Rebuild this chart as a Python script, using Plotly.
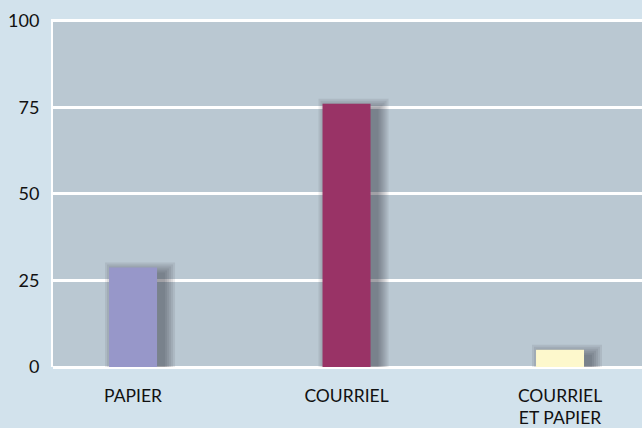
import plotly.graph_objects as go

categories = ["PAPIER", "COURRIEL", "COURRIEL<br>ET PAPIER"]
values = [28.7, 76, 5]
colors = ["#9797c9", "#993366", "#fdf8cc"]
y_ticks = [0, 25, 50, 75, 100]

PX_X = 213.5   # pixels per category
PX_Y = 3.46    # pixels per y unit
BAR_PX = 48

fig = go.Figure()

# soft drop shadows: stacked translucent layers, offset right/down
dx, dy = 7, 6
for e in [11, 9, 7, 5, 3, 1]:
    fig.add_trace(go.Bar(
        x=categories,
        y=[v + 2 * e / PX_Y for v in values],
        base=-(dy + e) / PX_Y,
        width=(BAR_PX + 2 * e) / PX_X,
        offset=(-BAR_PX / 2 + dx - e) / PX_X,
        marker=dict(color="rgba(30,40,50,0.085)", line=dict(width=0)),
        cliponaxis=False, hoverinfo="skip", showlegend=False,
    ))

fig.add_trace(go.Bar(
    x=categories, y=values, width=BAR_PX / PX_X, offset=-BAR_PX / 2 / PX_X,
    marker=dict(color=colors, line=dict(width=0)),
    cliponaxis=False, showlegend=False,
))

fig.update_layout(
    width=642, height=428,
    margin=dict(l=53, r=0, t=19, b=61),
    paper_bgcolor="#d2e2ec",
    plot_bgcolor="#bac8d2",
    barmode="overlay",
    font=dict(family="Lato, Open Sans, sans-serif", color="#111111"),
    xaxis=dict(
        type="category", range=[-0.375, 2.384],
        showgrid=False, zeroline=False, showline=False,
        ticks="", tickfont=dict(size=17.5), ticklabelstandoff=16,
    ),
    yaxis=dict(
        range=[0, 100.5], tickvals=y_ticks, ticktext=[str(v) for v in y_ticks],
        showgrid=True, gridcolor="white", gridwidth=3,
        zeroline=True, zerolinecolor="white", zerolinewidth=3,
        showline=True, linecolor="white", linewidth=2,
        ticks="", tickfont=dict(size=18), ticklabelstandoff=8,
    ),
)

fig.write_html(
    "out.html",
    config={"displayModeBar": False, "staticPlot": True},
    post_script="document.body.style.margin='0';document.body.style.overflow='hidden';",
)
